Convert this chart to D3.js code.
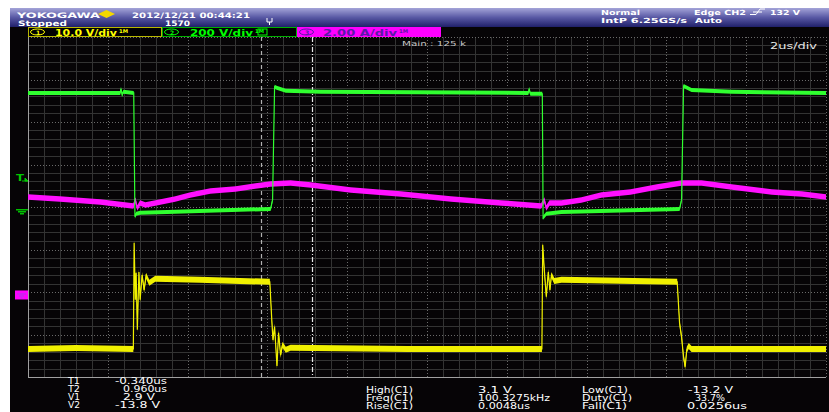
<!DOCTYPE html>
<html>
<head>
<meta charset="utf-8">
<script src="https://cdn.jsdelivr.net/npm/d3@7"></script>
<style>
  body { margin: 0; background: #fff; }
  svg { display: block; }
  text { font-family: 'DejaVu Sans', sans-serif; }
</style>
</head>
<body>
<svg id="scope" width="829" height="412"></svg>
<script>
// time in us (0 = left edge of screen, 2 us/div, 10 div)
const timeSpan = [0, 20];
// CH1 (yellow, V)
const ch1 = [
  [0, -13.2], [1.2, -13.0], [2.64, -13.2], [2.66, 11.8], [2.69, -1.6], [2.71, 4.7], [2.74, -8.7],
  [2.78, 4.9], [2.81, -1.6], [2.86, 4.2], [2.91, 0.7], [2.96, 4.0], [3.04, 2.4], [3.19, 3.3],
  [4.3, 3.1], [6.06, 2.6], [6.11, -6.4], [6.14, -11.1], [6.18, -8.0], [6.24, -17.2], [6.28, -9.4],
  [6.33, -14.6], [6.38, -12.2], [6.46, -13.4], [6.58, -12.9], [9.5, -13.2], [12.88, -13.2],
  [12.9, 11.3], [12.94, 5.4], [12.99, -0.9], [13.04, 4.9], [13.08, 0.7], [13.12, 4.2], [13.19, 2.8],
  [13.37, 3.1], [16.27, 2.6], [16.33, -7.1], [16.38, -10.4], [16.43, -15.1], [16.47, -17.4],
  [16.51, -13.4], [16.56, -12.5], [16.63, -13.2], [20, -13.2]
];
// CH2 (green, V)
const ch2 = [
  [0, 555], [2.31, 555], [2.33, 574], [2.36, 546], [2.39, 560], [2.65, 555], [2.68, -28],
  [2.71, -14], [2.81, -9], [3.49, -5], [6.08, 9], [6.13, 52], [6.18, 584], [6.23, 579],
  [6.46, 565], [7.34, 560], [12.54, 555], [12.56, 574], [12.59, 551], [12.89, 551], [12.91, -33],
  [12.99, -14], [13.37, -5], [16.33, 9], [16.38, 52], [16.43, 588], [16.63, 569], [17.64, 560],
  [20, 555]
];
// CH3 (magenta, A)
const ch3 = [
  [0, 4.61], [0.8, 4.52], [1.81, 4.38], [2.64, 4.19], [2.69, 4.47], [2.74, 4.09], [2.81, 4.33],
  [2.94, 4.24], [3.32, 4.38], [3.69, 4.52], [4.07, 4.71], [4.57, 4.89], [5.2, 4.99], [5.7, 5.13],
  [6.08, 5.22], [6.58, 5.27], [7.09, 5.18], [8.09, 4.94], [9.35, 4.75], [10.6, 4.52], [11.86, 4.33],
  [12.86, 4.19], [12.94, 4.47], [12.99, 4.09], [13.07, 4.33], [13.37, 4.33], [13.87, 4.47],
  [14.37, 4.70], [15.1, 4.85], [15.76, 5.08], [16.38, 5.27], [16.88, 5.27], [17.64, 5.08],
  [18.64, 4.85], [19.4, 4.75], [20, 4.61]
];
const vDiv = [10, 200, 2];          // per channel scale
const chPos = [-2.02, -0.09, -2.07]; // ground position in div
const trigOffset = 6.17;            // trigger point, us from left edge
const cursorT = [-0.34, 0.96];

const header = { model: 'YOKOGAWA', date: '2012/12/21 00:44:21', state: 'Stopped', count: '1570',
  mode: 'Normal', rate: 'IntP 6.25GS/s', trig: 'Edge CH2', level: '132 V', auto: 'Auto' };
const chLabels = ['10.0 V/div', '200 V/div', '2.00 A/div'];
const cursorNames = ['T1', 'T2', 'V1', 'V2'];
const cursorVals = ['-0.340us', '0.960us', '2.9 V', '-13.8 V'];
const measNames = ['High(C1)', 'Freq(C1)', 'Rise(C1)'];
const measVals = ['3.1 V', '100.3275kHz', '0.0048us'];
const measNames2 = ['Low(C1)', 'Duty(C1)', 'Fall(C1)'];
const measVals2 = ['-13.2 V', '33.7%', '0.0256us'];

const svg = d3.select('#scope');
const X0 = 28, X1 = 826, Y0 = 37, Y1 = 377;

const x = d3.scaleLinear().domain(timeSpan).range([X0, X1]);
const yDiv = d3.scaleLinear().domain([-4, 4]).range([Y1, Y0]);
const yCh = i => v => yDiv(chPos[i] + v / vDiv[i]);

// header bar
const defs = svg.append('defs');
const hg = defs.append('linearGradient').attr('id', 'hdr').attr('x1', 0).attr('y1', 0).attr('x2', 0).attr('y2', 1);
hg.append('stop').attr('offset', '0%').attr('stop-color', '#a4a4d8');
hg.append('stop').attr('offset', '50%').attr('stop-color', '#5858a4');
hg.append('stop').attr('offset', '100%').attr('stop-color', '#20206a');

svg.append('rect').attr('x', 10).attr('y', 8).attr('width', 819).attr('height', 404).attr('fill', '#060406');
svg.append('rect').attr('x', 10).attr('y', 8).attr('width', 819).attr('height', 19).attr('fill', 'url(#hdr)');

function txt(s, px, py, len, size, fill, weight) {
  const t = svg.append('text').attr('x', px).attr('y', py).text(s)
    .attr('font-size', size).attr('fill', fill).attr('font-weight', weight || 'bold');
  if (len) t.attr('textLength', len).attr('lengthAdjust', 'spacingAndGlyphs');
  return t;
}

txt(header.model, 17, 17.5, 83, 7.5, '#fff');
svg.append('path').attr('d', 'M98,14 L106.5,10 L115,14 L106.5,18 Z').attr('fill', '#f4d800');
txt(header.date, 132, 17.5, 118, 7.5, '#fff');
txt(header.state, 18, 25.5, 49, 7.5, '#fff');
txt(header.count, 165, 25.5, 25, 7.5, '#fff');
svg.append('path').attr('d', 'M267,18 V22 H272 V18 M269.5,22 V25').attr('stroke', '#fff').attr('fill', 'none');
txt(header.mode, 601, 14.5, 39, 7, '#fff');
txt(header.rate, 601, 22.5, 86, 7, '#fff');
txt(header.trig, 694, 14.5, 52, 7, '#fff');
svg.append('path').attr('d', 'M750,14.5 H756 L760,9 H765 M753,12 H762').attr('stroke', '#fff').attr('fill', 'none');
txt(header.level, 770, 14.5, 30, 7, '#fff');
txt(header.auto, 695, 22.5, 27, 7, '#fff');

// channel bar
const boxes = [
  { x: 28, w: 134, stroke: '#b8b800', fill: '#000', col: '#ffff00', tx: 55, tl: 62 },
  { x: 162, w: 135, stroke: '#00b000', fill: '#000', col: '#00ff00', tx: 190, tl: 63 },
  { x: 297, w: 144, stroke: '#ff00ff', fill: '#ff00ff', col: '#5c1aa8', tx: 323, tl: 74 }
];
boxes.forEach((b, i) => {
  svg.append('rect').attr('x', b.x + 0.5).attr('y', 27.5).attr('width', b.w - 1).attr('height', 9)
    .attr('fill', b.fill).attr('stroke', b.stroke);
  svg.append('ellipse').attr('cx', b.x + 9.5).attr('cy', 32).attr('rx', 7).attr('ry', 3)
    .attr('fill', 'none').attr('stroke', b.col);
  txt(String(i + 1), b.x + 8, 34.5, null, 6, b.col);
  txt(chLabels[i], b.tx, 35.5, b.tl, 8.5, b.col);
  txt('1M', b.tx + b.tl + 2, 33, 9, 5, b.col);
});
svg.append('rect').attr('x', 258).attr('y', 29).attr('width', 9).attr('height', 6)
  .attr('fill', 'none').attr('stroke', '#00ff00');

// grid
const g = svg.append('g');
const minorX = d3.range(timeSpan[0], timeSpan[1] + 0.001, 0.4);
const minorY = d3.range(-4, 4.001, 0.2);
g.selectAll('.vx').data(minorX).enter().append('line')
  .attr('x1', d => Math.round(x(d)) + 0.5).attr('x2', d => Math.round(x(d)) + 0.5)
  .attr('y1', Y0).attr('y2', Y1)
  .attr('stroke', (d, i) => i % 5 === 0 ? '#6a6a6a' : '#333')
  .attr('stroke-dasharray', (d, i) => i % 5 === 0 ? '1,2' : null);
g.selectAll('.hy').data(minorY).enter().append('line')
  .attr('y1', d => Math.round(yDiv(d)) + 0.5).attr('y2', d => Math.round(yDiv(d)) + 0.5)
  .attr('x1', X0).attr('x2', X1)
  .attr('stroke', (d, i) => i % 5 === 0 ? '#6a6a6a' : '#333')
  .attr('stroke-dasharray', (d, i) => i % 5 === 0 ? '1,2' : null);
g.append('line').attr('x1', X0 + 0.5).attr('x2', X0 + 0.5).attr('y1', Y0).attr('y2', Y1).attr('stroke', '#a0a0a0');
g.append('line').attr('x1', X0).attr('x2', X1).attr('y1', Y1 + 0.5).attr('y2', Y1 + 0.5).attr('stroke', '#a0a0a0');

txt('Main : 125 k', 402, 46, 64, 7, '#c8c8c8', 'normal');
txt('2us/div', 770, 49, 47, 9, '#e8e8e8', 'normal');

// cursors
cursorT.forEach((c, i) => {
  g.append('line').attr('x1', Math.round(x(trigOffset + c)) + 0.5).attr('x2', Math.round(x(trigOffset + c)) + 0.5)
    .attr('y1', Y0).attr('y2', Y1)
    .attr('stroke', i === 0 ? '#b0b0b0' : '#e8e8e8').attr('stroke-width', 1.2)
    .attr('stroke-dasharray', i === 0 ? '4,3' : '5,2,1,2');
});

// traces: noise band + thin edge line
const traces = [
  { data: ch3, i: 2, col: '#ff10ff', band: 5.5 },
  { data: ch2, i: 1, col: '#30ff30', band: 4 },
  { data: ch1, i: 0, col: '#f0f000', band: 6 }
];
traces.forEach(tr => {
  const y = yCh(tr.i);
  const area = d3.area().x(d => x(d[0])).y0(d => y(d[1]) - tr.band / 2).y1(d => y(d[1]) + tr.band / 2);
  const line = d3.line().x(d => x(d[0])).y(d => y(d[1]));
  svg.append('path').datum(tr.data).attr('d', area).attr('fill', tr.col);
  svg.append('path').datum(tr.data).attr('d', line).attr('fill', 'none').attr('stroke', tr.col).attr('stroke-width', 1.2);
});

// left markers
txt('T', 16, 181, 8, 9, '#00c800');
svg.append('path').attr('d', 'M22,181 H28 M25,178 L28,181 L25,181 Z').attr('stroke', '#00c800').attr('fill', '#00c800');
const gy = yCh(1)(0);
svg.append('path').attr('d', `M16,${gy - 1} H28 M18,${gy + 1} H26 M20,${gy + 3} H24`).attr('stroke', '#00c000').attr('stroke-width', 1.5);
const my = yCh(2)(0);
svg.append('rect').attr('x', 15).attr('y', my - 4.5).attr('width', 13).attr('height', 9).attr('fill', '#ff00ff');
svg.append('path').attr('d', `M17,${my - 1} H26 M19,${my + 1} H24 M20.5,${my + 3} H22.5`).attr('stroke', '#a040e0');

// bottom readouts
const curX = [115, 123, 123, 115];
const curLen = [52, 44, 32, 45];
cursorNames.forEach((n, k) => {
  const by = 384 + k * 8;
  txt(n, 68, by, 12, 8, '#fff', 'normal');
  txt(cursorVals[k], curX[k], by, curLen[k], 8, '#fff', 'normal');
});
const mLen = [34, 72, 52];
const m2X = [688, 695, 687];
const m2Len = [45, 30, 60];
const n2Len = [46, 50, 45];
measNames.forEach((n, k) => {
  const by = 393 + k * 8;
  txt(n, 366, by, 47, 8, '#fff', 'normal');
  txt(measVals[k], 478, by, mLen[k], 8, '#fff', 'normal');
  txt(measNames2[k], 582, by, n2Len[k], 8, '#fff', 'normal');
  txt(measVals2[k], m2X[k], by, m2Len[k], 8, '#fff', 'normal');
});
</script>
</body>
</html>
